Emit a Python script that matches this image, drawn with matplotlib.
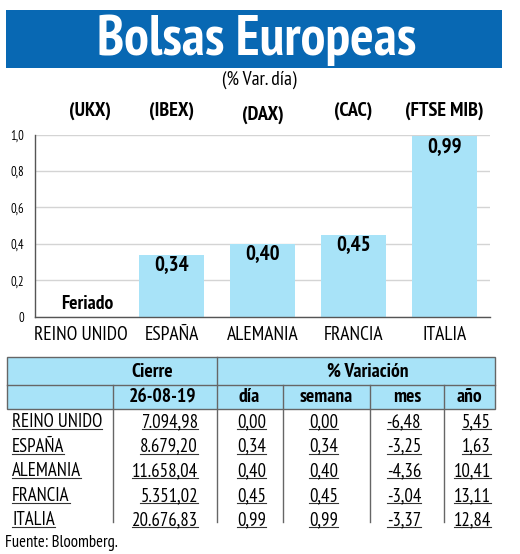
import matplotlib
matplotlib.use('Agg')
import matplotlib.pyplot as plt
from matplotlib.lines import Line2D
from matplotlib.patches import Rectangle
import matplotlib.transforms as mtransforms

plt.rcParams['font.family'] = ['PT Sans Narrow', 'DejaVu Sans Condensed', 'DejaVu Sans']

# datos
paises = ['REINO UNIDO', 'ESPAÑA', 'ALEMANIA', 'FRANCIA', 'ITALIA']
indices = ['(UKX)', '(IBEX)', '(DAX)', '(CAC)', '(FTSE MIB)']
var_dia = [0.00, 0.34, 0.40, 0.45, 0.99]
cierre = [7094.98, 8679.20, 11658.04, 5351.02, 20676.83]
var_semana = [0.00, 0.34, 0.40, 0.45, 0.99]
var_mes = [-6.48, -3.25, -4.36, -3.04, -3.37]
var_anio = [5.45, 1.63, 10.41, 13.11, 12.84]
y_ticks = [0, 0.2, 0.4, 0.6, 0.8, 1.0]

AZUL = '#0868b3'
CELESTE = '#a8e3f8'
W, H = 520, 554

def fx(x):
    return x / W
def fy(y):
    return 1 - y / H

def es(v, dec=2):
    s = f'{v:,.{dec}f}'
    return s.replace(',', 'X').replace('.', ',').replace('X', '.')

fig = plt.figure(figsize=(5.2, 5.54), dpi=100)

# cabecera
fig.patches.append(Rectangle((fx(6), fy(68)), fx(496), 58 / H, transform=fig.transFigure,
                             facecolor=AZUL, edgecolor='none'))
fig.text(fx(257), fy(40), 'Bolsas Europeas', color='white', fontsize=40, fontweight='bold',
         ha='center', va='center')
fig.text(fx(259), fy(80), '(% Var. día)', fontsize=14, ha='center', va='center')

# grafico
ax = fig.add_axes([fx(35), fy(316.7), (490 - 35) / W, (316.7 - 134.5) / H])
x = list(range(len(paises)))
ax.bar(x, var_dia, width=0.71, color=CELESTE, zorder=2)
ax.set_xlim(-0.5, 4.5)
ax.set_ylim(0, 1.0)
ax.set_yticks(y_ticks)
ax.set_yticklabels(['0' if t == 0 else es(t, 1) for t in y_ticks], fontsize=9)
ax.set_xticks(x)
ax.set_xticklabels(paises, fontsize=14)
ax.tick_params(axis='y', length=0, pad=8)
ax.tick_params(axis='x', length=0, pad=7)
ax.grid(axis='y', color='#d4d4d4', linewidth=1, zorder=0)
for s in ['top', 'right']:
    ax.spines[s].set_visible(False)
for s in ['left', 'bottom']:
    ax.spines[s].set_color('#555555')
    ax.spines[s].set_linewidth(1)

for i, v in enumerate(var_dia):
    if i == 0:
        ax.text(i + 0.07, 0.07, 'Feriado', ha='center', va='center', fontsize=14, fontweight='bold')
    else:
        ax.text(i, v - 0.055, es(v), ha='center', va='center', fontsize=15, fontweight='bold')

trans = mtransforms.blended_transform_factory(ax.transData, fig.transFigure)
for i, t in enumerate(indices):
    dy = 115 if t == '(DAX)' else 111
    dx = 0.1 if i == 0 else 0
    ax.text(i + dx, fy(dy), t, transform=trans, ha='center', va='center',
            fontsize=14.5, fontweight='bold')

# tabla
borde = '#666666'
fig.patches.append(Rectangle((fx(7), fy(409)), fx(488), 52 / H, transform=fig.transFigure,
                             facecolor=CELESTE, edgecolor=borde, linewidth=1))
def linea(x0, y0, x1, y1, c=borde, lw=1):
    fig.lines.append(Line2D([fx(x0), fx(x1)], [fy(y0), fy(y1)], transform=fig.transFigure,
                            color=c, linewidth=lw))

linea(7, 385, 495, 385)
linea(217, 357, 217, 522)
for xc in [113, 283, 370, 444]:
    linea(xc, 385, xc, 522)

fig.text(fx(152), fy(372), 'Cierre', fontsize=14, fontweight='bold', ha='center', va='center')
fig.text(fx(368), fy(372), '% Variación', fontsize=14, fontweight='bold', ha='center', va='center')
cab2 = [('26-08-19', 163), ('día', 249), ('semana', 326), ('mes', 407), ('año', 469)]
for txt, xc in cab2:
    fig.text(fx(xc), fy(397), txt, fontsize=14, fontweight='bold', ha='center', va='center')

textos = []
for i, p in enumerate(paises):
    yc = 422 + i * 24.6
    fila = [(p, 12, 'left'), (es(cierre[i]), 198, 'right'), (es(var_dia[i]), 266, 'right'),
            (es(var_semana[i]), 338, 'right'), (es(var_mes[i]), 421, 'right'),
            (es(var_anio[i]), 491, 'right')]
    for txt, xc, ha in fila:
        textos.append(fig.text(fx(xc), fy(yc), txt, fontsize=13.5, ha=ha, va='center'))

fig.text(fx(5), fy(543), 'Fuente: Bloomberg.', fontsize=12, ha='left', va='center')

# subrayado de las celdas
fig.canvas.draw()
r = fig.canvas.get_renderer()
for t in textos:
    bb = t.get_window_extent(r)
    y = bb.y0 + 2
    fig.lines.append(Line2D([bb.x0 / W, bb.x1 / W], [y / H, y / H], transform=fig.transFigure,
                            color='#333333', linewidth=0.8))

fig.savefig('out.png', dpi=100)
